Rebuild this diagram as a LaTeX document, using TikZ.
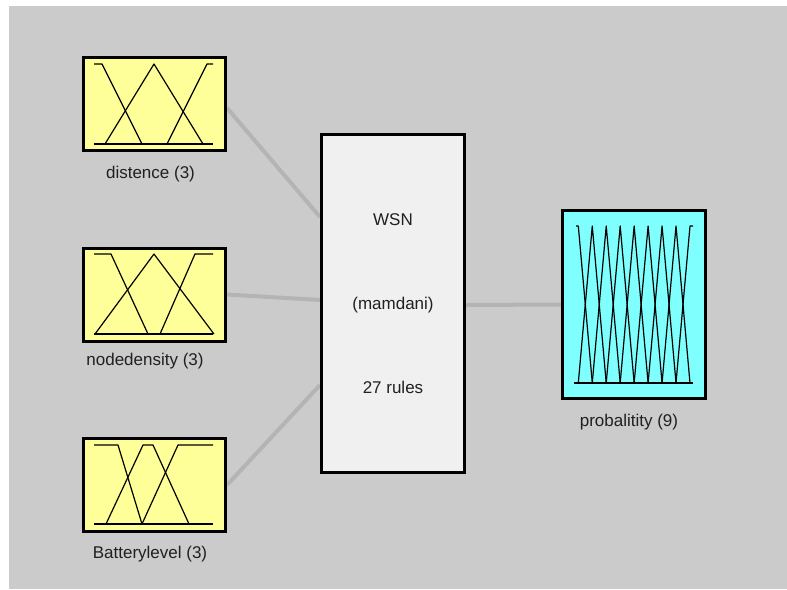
\documentclass[tikz,border=0pt]{standalone}
\usepackage{fontspec}
\setmainfont{Liberation Sans}
\definecolor{bggray}{HTML}{CBCBCB}
\definecolor{inyellow}{HTML}{FFFF99}
\definecolor{outcyan}{HTML}{80FFFF}
\definecolor{rulegray}{HTML}{F0F0F0}
\definecolor{linkgray}{HTML}{B4B4B4}
\definecolor{labelgray}{HTML}{202020}
\pgfdeclarelayer{bg}
\pgfsetlayers{bg,main}
\begin{document}
\begin{tikzpicture}[x=1pt,y=-1pt,
  fisbox/.style={draw=black, line width=3pt, inner sep=0pt},
  inbox/.style={fisbox, fill=inyellow, minimum width=142pt, minimum height=93pt},
  outbox/.style={fisbox, fill=outcyan, minimum width=143pt, minimum height=188pt},
  rulebox/.style={fisbox, fill=rulegray, minimum width=143pt, minimum height=338pt,
    align=center, text=labelgray, font=\fontsize{17}{20}\selectfont},
  lbl/.style={anchor=base, inner sep=0pt, text=labelgray, font=\fontsize{17}{20}\selectfont},
  mf/.style={line width=1.2pt, black, line join=round},
  link/.style={line width=4pt, linkgray}]
\useasboundingbox (0,0) rectangle (787,589);

% boxes
\node[inbox] (dist) at (154.5,104) {};
\node[inbox] (dens) at (154.5,294.5) {};
\node[inbox] (batt) at (154.5,485) {};
\node[rulebox] (fis) at (393,303.5) {WSN\\[64pt](mamdani)\\[64pt]27 rules};
\node[outbox] (prob) at (634,304.5) {};

% labels
\node[lbl] (distlbl) at (150.5,178) {distence (3)};
\node[lbl] (denslbl) at (145,365.5) {nodedensity (3)};
\node[lbl] (battlbl) at (150,558) {Batterylevel (3)};
\node[lbl] (problbl) at (629,426.5) {probalitity (9)};

% background and connectors
\begin{pgfonlayer}{bg}
  \fill[white] (0,0) rectangle (787,589);
  \fill[bggray] (9,6) rectangle (787,589);
  \draw[link] ([yshift=-4pt]dist.east) -- ([yshift=86.5pt]fis.west);
  \draw[link] (dens.east) -- ([yshift=3.5pt]fis.west);
  \draw[link] (batt.east) -- ([yshift=-81.5pt]fis.west);
  \draw[link] ([yshift=-1.5pt]fis.east) -- (prob.west);
\end{pgfonlayer}

% membership functions: distence (x 94..213, base 144, top 64)
\draw[mf] (94,144) -- (213,144);
\draw[mf] (94,64) -- (102,64) -- (142,144);
\draw[mf] (105,144) -- (154,64) -- (203,144);
\draw[mf] (167,144) -- (207,64) -- (213,64);

% nodedensity (base 334, top 254)
\draw[mf] (94,334) -- (213,334);
\draw[mf] (94,254) -- (111,254) -- (148,334);
\draw[mf] (95,334) -- (154,254) -- (214,334);
\draw[mf] (160,334) -- (195,254) -- (213,254);

% Batterylevel (base 524, top 445)
\draw[mf] (94,524) -- (213,524);
\draw[mf] (94,445) -- (118,445) -- (142,524);
\draw[mf] (106,524) -- (143,445) -- (153,445) -- (189,524);
\draw[mf] (142,524) -- (178,445) -- (213,445);

% probalitity (9 MFs, base 383, top 226)
\draw[mf] (574,383) -- (693,383);
\draw[mf] (576,226) -- (578.3,226) -- (592.3,383);
\foreach \k in {1,...,7}{
  \draw[mf] ({578.3+(\k-1)*13.96},383) -- ({578.3+\k*13.96},226) -- ({578.3+(\k+1)*13.96},383);
}
\draw[mf] (676.0,383) -- (690,226) -- (693,226);
\end{tikzpicture}
\end{document}
